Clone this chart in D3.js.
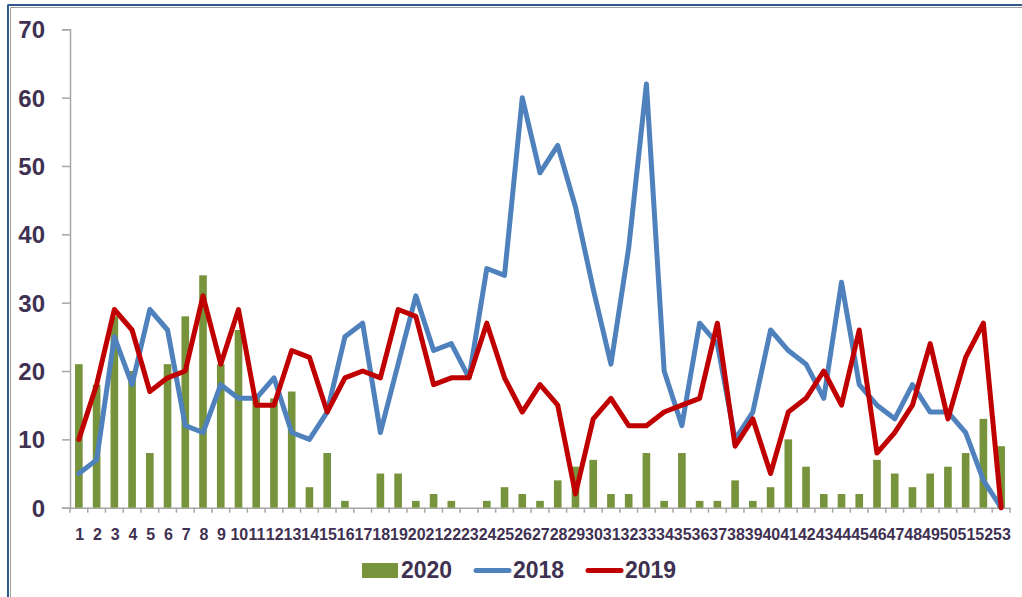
<!DOCTYPE html>
<html>
<head>
<meta charset="utf-8">
<script src="https://cdn.jsdelivr.net/npm/d3@7"></script>
<style>
  html, body { margin: 0; padding: 0; background: #fff; }
  svg { display: block; }
</style>
</head>
<body>
<svg id="chart" width="1022" height="597"></svg>
<script>
const weeks = d3.range(1, 54).map(String);
const s2020 = [21,18,28,20,8,21,28,34,21,26,16,16,17,3,8,
               1,0,5,5,1,2,1,0,1,3,2,1,4,6,7,2,2,8,1,
               8,1,1,4,1,3,10,6,2,2,2,7,5,3,5,6,8,13,9];
const s2018 = [5,7,25,18,29,26,12,11,18,16,16,19,11,10,14,
               25,27,11,21,31,23,24,19,35,34,60,49,53,44,32,21,38,62,20,
               12,27,24,10,14,26,23,21,16,33,18,15,13,18,14,14,11,4,0];
const s2019 = [10,18,29,26,17,19,20,31,21,29,15,15,23,22,14,
               19,20,19,29,28,18,19,19,27,19,14,18,15,2,13,16,12,12,14,
               15,16,27,9,13,5,14,16,20,15,26,8,11,15,24,13,22,27,0];
const yTicks = [0,10,20,30,40,50,60,70];
const seriesNames = ["2020","2018","2019"];

const colBar = "#77933c", colBlue = "#4f81bd", colRed = "#c00000";
const textCol = "#3f3151", axisCol = "#a6a6a6";

const svg = d3.select("#chart");

// frame
svg.append("line").attr("x1", 8).attr("x2", 8).attr("y1", 4.5).attr("y2", 597)
  .attr("stroke", "#2e5a8e").attr("stroke-width", 2);
svg.append("line").attr("x1", 8).attr("x2", 1022).attr("y1", 5).attr("y2", 5)
  .attr("stroke", "#2e5a8e").attr("stroke-width", 2);
svg.append("line").attr("x1", 10.5).attr("x2", 10.5).attr("y1", 7.5).attr("y2", 597)
  .attr("stroke", "#a0a0a0").attr("stroke-width", 1);
svg.append("line").attr("x1", 10.5).attr("x2", 1022).attr("y1", 7.5).attr("y2", 7.5)
  .attr("stroke", "#a0a0a0").attr("stroke-width", 1);

const x = d3.scaleBand().domain(weeks).range([70, 1010]).padding(0);
const y = d3.scaleLinear().domain([0, 70]).range([507.7, 29.3]);

// y axis
const yAxis = svg.append("g").attr("transform", "translate(70,0)")
  .call(d3.axisLeft(y).tickValues(yTicks).tickSize(8).tickPadding(17).tickFormat(d3.format("d")));
yAxis.select(".domain").attr("stroke", axisCol).attr("stroke-width", 1.5);
yAxis.selectAll(".tick line").attr("stroke", axisCol).attr("stroke-width", 1.5);
yAxis.selectAll("text").attr("fill", textCol).attr("font-family", "Liberation Sans, Arial, sans-serif")
  .attr("font-weight", "bold").attr("font-size", "24px").attr("dy", "0.36em");

// x axis
const xAxis = svg.append("g").attr("transform", `translate(0,${y(0)})`)
  .call(d3.axisBottom(x).tickSize(0).tickPadding(21));
xAxis.select(".domain").attr("stroke", axisCol).attr("stroke-width", 1.5);
xAxis.selectAll("text").attr("fill", textCol).attr("font-family", "Liberation Sans, Arial, sans-serif")
  .attr("font-weight", "bold").attr("font-size", "16px").attr("dx", "0.05em");
// boundary ticks
const bounds = weeks.map(w => x(w)).concat([x.range()[1]]);
xAxis.selectAll(".btick").data(bounds).join("line").attr("class", "btick")
  .attr("x1", d => d).attr("x2", d => d).attr("y1", 0).attr("y2", 5)
  .attr("stroke", axisCol).attr("stroke-width", 1.5);

// bars
const bw = x.bandwidth() * 0.43;
svg.append("g").selectAll("rect").data(s2020).join("rect")
  .attr("x", (d, i) => x(weeks[i]) + x.bandwidth() / 2 - bw / 2)
  .attr("y", d => y(d))
  .attr("width", bw)
  .attr("height", d => y(0) - y(d))
  .attr("fill", colBar);

const line = d3.line().x((d, i) => x(weeks[i]) + x.bandwidth() / 2).y(d => y(d));

svg.append("path").datum(s2018).attr("d", line).attr("fill", "none")
  .attr("stroke", colBlue).attr("stroke-width", 5).attr("stroke-linejoin", "round").attr("stroke-linecap", "round");
svg.append("path").datum(s2019).attr("d", line).attr("fill", "none")
  .attr("stroke", colRed).attr("stroke-width", 5).attr("stroke-linejoin", "round").attr("stroke-linecap", "round");

// legend
const leg = svg.append("g").attr("font-family", "Liberation Sans, Arial, sans-serif")
  .attr("font-weight", "bold").attr("font-size", "23px").attr("fill", textCol);
leg.append("rect").attr("x", 362).attr("y", 563).attr("width", 36).attr("height", 15).attr("fill", colBar);
leg.append("text").attr("x", 401).attr("y", 578).text(seriesNames[0]);
leg.append("line").attr("x1", 476).attr("x2", 509).attr("y1", 570.5).attr("y2", 570.5)
  .attr("stroke", colBlue).attr("stroke-width", 5).attr("stroke-linecap", "round");
leg.append("text").attr("x", 513).attr("y", 578).text(seriesNames[1]);
leg.append("line").attr("x1", 588).attr("x2", 621).attr("y1", 570.5).attr("y2", 570.5)
  .attr("stroke", colRed).attr("stroke-width", 5).attr("stroke-linecap", "round");
leg.append("text").attr("x", 625).attr("y", 578).text(seriesNames[2]);
</script>
</body>
</html>
